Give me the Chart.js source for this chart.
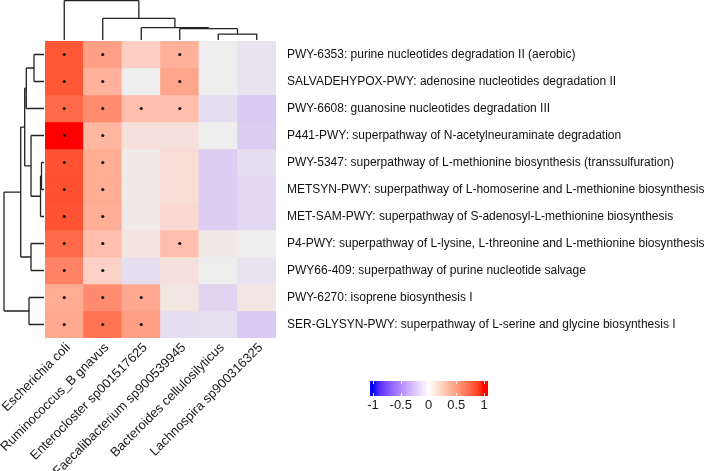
<!DOCTYPE html>
<html>
<head>
<meta charset="utf-8">
<script src="https://cdn.jsdelivr.net/npm/chart.js@4.4.1/dist/chart.umd.min.js"></script>
<style>
  html, body { margin: 0; padding: 0; background: #fff; }
  canvas { display: block; }
</style>
</head>
<body>
<canvas id="myChart" width="709" height="471"></canvas>
<script>
// especies (columnas) y rutas (filas)
var columns = ['Escherichia coli', 'Ruminococcus_B gnavus', 'Enterocloster sp001517625',
  'Faecalibacterium sp900539945', 'Bacteroides cellulosilyticus', 'Lachnospira sp900316325'];
var pathways = [
  'PWY-6353: purine nucleotides degradation II (aerobic)',
  'SALVADEHYPOX-PWY: adenosine nucleotides degradation II',
  'PWY-6608: guanosine nucleotides degradation III',
  'P441-PWY: superpathway of N-acetylneuraminate degradation',
  'PWY-5347: superpathway of L-methionine biosynthesis (transsulfuration)',
  'METSYN-PWY: superpathway of L-homoserine and L-methionine biosynthesis',
  'MET-SAM-PWY: superpathway of S-adenosyl-L-methionine biosynthesis',
  'P4-PWY: superpathway of L-lysine, L-threonine and L-methionine biosynthesis I',
  'PWY66-409: superpathway of purine nucleotide salvage',
  'PWY-6270: isoprene biosynthesis I',
  'SER-GLYSYN-PWY: superpathway of L-serine and glycine biosynthesis I'
];
// correlaciones
var corr = [
  [0.80, 0.45, 0.18, 0.35, 0.00, -0.05],
  [0.80, 0.35, 0.00, 0.42, 0.00, -0.05],
  [0.72, 0.55, 0.28, 0.28, -0.08, -0.17],
  [1.00, 0.32, 0.08, 0.08, 0.00, -0.15],
  [0.82, 0.38, 0.02, 0.10, -0.15, -0.08],
  [0.83, 0.38, 0.02, 0.10, -0.15, -0.10],
  [0.82, 0.37, 0.02, 0.12, -0.15, -0.10],
  [0.72, 0.28, 0.06, 0.28, 0.02, 0.00],
  [0.60, 0.17, -0.08, 0.08, 0.00, -0.05],
  [0.38, 0.55, 0.40, 0.05, -0.12, 0.05],
  [0.40, 0.67, 0.45, -0.08, -0.07, -0.17]
];
// celdas significativas (punto)
var signif = [
  [1, 1, 0, 1, 0, 0],
  [1, 1, 0, 1, 0, 0],
  [1, 1, 1, 1, 0, 0],
  [1, 1, 0, 0, 0, 0],
  [1, 1, 0, 0, 0, 0],
  [1, 1, 0, 0, 0, 0],
  [1, 1, 0, 0, 0, 0],
  [1, 1, 0, 1, 0, 0],
  [1, 1, 0, 0, 0, 0],
  [1, 1, 1, 0, 0, 0],
  [1, 1, 1, 0, 0, 0]
];
// dendrogramas: [a, b, altura]; negativo = union previa (como hclust)
var colMerges = [[4, 5, 6], [3, -1, 11.5], [2, -2, 12.5], [1, -3, 22], [0, -4, 40]];
var rowMerges = [[0, 1, 10], [2, -1, 17.7], [4, 5, 2.5], [6, -3, 3.5], [3, -4, 13],
  [-2, -5, 19.3], [7, 8, 13], [-6, -7, 23.3], [9, 10, 15], [-8, -9, 40]];
var legendTicks = [-1, -0.5, 0, 0.5, 1];

// interpolacion en espacio LAB (como colorRamp2)
function toLin(c) { c /= 255; return c <= 0.04045 ? c / 12.92 : Math.pow((c + 0.055) / 1.055, 2.4); }
function toSrgb(c) {
  c = c <= 0.0031308 ? 12.92 * c : 1.055 * Math.pow(c, 1 / 2.4) - 0.055;
  return Math.round(Math.max(0, Math.min(1, c)) * 255);
}
function rgb2lab(rgb) {
  var r = toLin(rgb[0]), g = toLin(rgb[1]), b = toLin(rgb[2]);
  var x = (0.4124 * r + 0.3576 * g + 0.1805 * b) / 0.95047;
  var y = (0.2126 * r + 0.7152 * g + 0.0722 * b);
  var z = (0.0193 * r + 0.1192 * g + 0.9505 * b) / 1.08883;
  var f = function(t) { return t > 0.008856 ? Math.cbrt(t) : 7.787 * t + 16 / 116; };
  var fx = f(x), fy = f(y), fz = f(z);
  return [116 * fy - 16, 500 * (fx - fy), 200 * (fy - fz)];
}
function lab2rgb(lab) {
  var fy = (lab[0] + 16) / 116, fx = fy + lab[1] / 500, fz = fy - lab[2] / 200;
  var fi = function(t) { return t > 0.206893 ? t * t * t : (t - 16 / 116) / 7.787; };
  var x = fi(fx) * 0.95047, y = fi(fy), z = fi(fz) * 1.08883;
  var r = 3.2406 * x - 1.5372 * y - 0.4986 * z;
  var g = -0.9689 * x + 1.8758 * y + 0.0415 * z;
  var b = 0.0557 * x - 0.2040 * y + 1.0570 * z;
  return [toSrgb(r), toSrgb(g), toSrgb(b)];
}
function rampColor(v, mid) {
  var lo = v < 0 ? rgb2lab([0, 0, 255]) : rgb2lab(mid);
  var hi = v < 0 ? rgb2lab(mid) : rgb2lab([255, 0, 0]);
  var t = v < 0 ? v + 1 : v;
  var lab = [0, 1, 2].map(function(i) { return lo[i] + (hi[i] - lo[i]) * t; });
  var c = lab2rgb(lab);
  return 'rgb(' + c[0] + ',' + c[1] + ',' + c[2] + ')';
}
function cellColor(v) { return rampColor(Math.max(-1, Math.min(1, v)), [238, 238, 238]); }

// celdas como barras flotantes, una serie por fila
var datasets = pathways.map(function(p, r) {
  return {
    label: p,
    data: columns.map(function() { return [r, r + 1]; }),
    backgroundColor: corr[r].map(cellColor),
    borderWidth: 0,
    barPercentage: 1,
    categoryPercentage: 1,
    grouped: false,
    yAxisID: 'y',
    order: 1
  };
});
var dots = [];
signif.forEach(function(row, r) {
  row.forEach(function(s, c) { if (s) dots.push({ x: columns[c], y: r + 0.5 }); });
});
datasets.push({
  type: 'scatter', label: 'sig', data: dots, yAxisID: 'y', order: 0,
  pointRadius: 1.6, pointBackgroundColor: '#111', pointBorderWidth: 0
});

function nodePositions(merges, leafPos) {
  var pos = [];
  merges.forEach(function(m, i) {
    var a = m[0] >= 0 ? leafPos(m[0]) : pos[-m[0] - 1];
    var b = m[1] >= 0 ? leafPos(m[1]) : pos[-m[1] - 1];
    pos[i] = (a + b) / 2;
  });
  return pos;
}

var dendroPlugin = {
  id: 'dendro',
  afterDraw: function(chart) {
    var ctx = chart.ctx, area = chart.chartArea;
    var xs = chart.scales.x, ys = chart.scales.y;
    ctx.save();
    ctx.strokeStyle = '#222';
    ctx.lineWidth = 1.3;
    ctx.beginPath();
    // arriba (columnas)
    var cPos = nodePositions(colMerges, function(i) { return xs.getPixelForValue(i); });
    var cBase = area.top - 1, cK = (area.top - 1.5) / 40;
    colMerges.forEach(function(m) {
      var hy = cBase - m[2] * cK;
      [m[0], m[1]].forEach(function(k) {
        var px = k >= 0 ? xs.getPixelForValue(k) : cPos[-k - 1];
        var py = k >= 0 ? cBase : cBase - colMerges[-k - 1][2] * cK;
        ctx.moveTo(px, py); ctx.lineTo(px, hy);
      });
      var ax = m[0] >= 0 ? xs.getPixelForValue(m[0]) : cPos[-m[0] - 1];
      var bx = m[1] >= 0 ? xs.getPixelForValue(m[1]) : cPos[-m[1] - 1];
      ctx.moveTo(ax, hy); ctx.lineTo(bx, hy);
    });
    // izquierda (filas)
    var rPos = nodePositions(rowMerges, function(i) { return ys.getPixelForValue(i + 0.5); });
    var rBase = area.left - 1, rK = (area.left - 5) / 40;
    rowMerges.forEach(function(m) {
      var hx = rBase - m[2] * rK;
      [m[0], m[1]].forEach(function(k) {
        var py = k >= 0 ? ys.getPixelForValue(k + 0.5) : rPos[-k - 1];
        var px = k >= 0 ? rBase : rBase - rowMerges[-k - 1][2] * rK;
        ctx.moveTo(px, py); ctx.lineTo(hx, py);
      });
      var ay = m[0] >= 0 ? ys.getPixelForValue(m[0] + 0.5) : rPos[-m[0] - 1];
      var by = m[1] >= 0 ? ys.getPixelForValue(m[1] + 0.5) : rPos[-m[1] - 1];
      ctx.moveTo(hx, ay); ctx.lineTo(hx, by);
    });
    ctx.stroke();
    ctx.restore();
  }
};

// barra de color
var colorBarPlugin = {
  id: 'colorBar',
  afterDraw: function(chart) {
    var ctx = chart.ctx;
    var x0 = 370, x1 = 488, y0 = 381, y1 = 396;
    var tx = function(v) { return 428.5 + v * 55.5; };
    var grad = ctx.createLinearGradient(tx(-1), 0, tx(1), 0);
    for (var i = 0; i <= 20; i++) {
      var v = -1 + i / 10;
      grad.addColorStop(i / 20, rampColor(v, [255, 255, 255]));
    }
    ctx.save();
    ctx.fillStyle = grad;
    ctx.fillRect(x0, y0, x1 - x0, y1 - y0);
    ctx.strokeStyle = 'rgba(255,255,255,0.9)';
    ctx.lineWidth = 1;
    ctx.beginPath();
    legendTicks.forEach(function(v) {
      var x = Math.round(tx(v)) + 0.5;
      ctx.moveTo(x, y0); ctx.lineTo(x, y0 + 3);
      ctx.moveTo(x, y1 - 3); ctx.lineTo(x, y1);
    });
    ctx.stroke();
    ctx.fillStyle = '#1a1a1a';
    ctx.font = '13px "Liberation Sans", Arial, sans-serif';
    ctx.textAlign = 'center';
    ctx.textBaseline = 'middle';
    legendTicks.forEach(function(v) { ctx.fillText(String(v), tx(v), 405); });
    ctx.restore();
  }
};

var ctx = document.getElementById('myChart').getContext('2d');
var myChart = new Chart(ctx, {
  type: 'bar',
  data: { labels: columns, datasets: datasets },
  options: {
    responsive: false,
    animation: false,
    devicePixelRatio: 1,
    layout: { padding: { left: 45, top: 41, right: 0, bottom: 0 } },
    plugins: { legend: { display: false }, tooltip: { enabled: false } },
    scales: {
      x: {
        type: 'category',
        position: 'bottom',
        offset: true,
        grid: { display: false },
        border: { display: false },
        ticks: {
          autoSkip: false, minRotation: 45, maxRotation: 45, padding: -6, labelOffset: 4,
          color: '#1a1a1a', font: { family: '"Liberation Sans", Arial, sans-serif', size: 13 }
        },
        afterFit: function(s) { s.height = 133; s.paddingLeft = 0; s.paddingRight = 0; }
      },
      y: { type: 'linear', min: 0, max: 11, reverse: true, display: false },
      yLab: {
        type: 'category',
        labels: pathways,
        position: 'right',
        offset: true,
        grid: { display: false },
        border: { display: false },
        ticks: {
          autoSkip: false, padding: 3,
          color: '#111', font: { family: '"Liberation Sans", Arial, sans-serif', size: 12 }
        },
        afterFit: function(s) { s.width = 433; s.paddingTop = 0; s.paddingBottom = 0; }
      }
    }
  },
  plugins: [dendroPlugin, colorBarPlugin]
});
</script>
</body>
</html>
